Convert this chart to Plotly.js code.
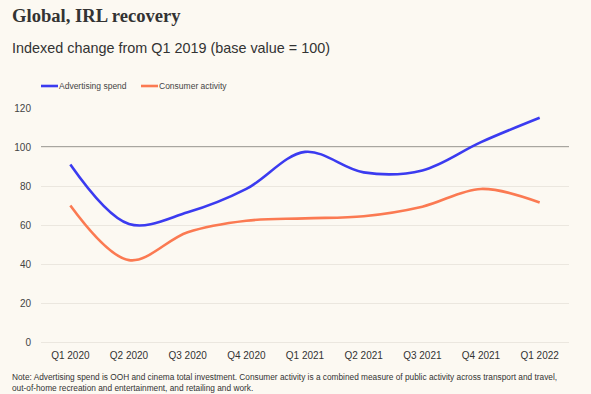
<!DOCTYPE html>
<html>
<head>
<meta charset="utf-8">
<script src="https://cdn.plot.ly/plotly-3.0.1.min.js"></script>
<style>
html,body{margin:0;padding:0;background:#fcf9f2;}
#chart{width:591px;height:394px;}
</style>
</head>
<body>
<div id="chart"></div>
<script>
const quarters = ["Q1 2020","Q2 2020","Q3 2020","Q4 2020","Q1 2021","Q2 2021","Q3 2021","Q4 2021","Q1 2022"];
const advertisingSpend = [91, 60.5, 66.5, 78.5, 97.5, 87, 88, 102.5, 115];
const consumerActivity = [70, 42, 56.3, 62.2, 63.4, 64.5, 69.4, 78.5, 71.5];
const yTicks = [0, 20, 40, 60, 80, 100, 120];
const baseValue = 100;
const seriesNames = ["Advertising spend", "Consumer activity"];
const seriesColors = ["#3b3bf0", "#fb7a52"];

// plot-area geometry in pixels (used to place paper-referenced text)
const W = 591, H = 394, ML = 41, MR = 22, MT = 108, MB = 52;
const PW = W - ML - MR, PH = H - MT - MB;
const px = v => (v - ML) / PW;          // pixel x -> paper x
const py = v => (H - MB - v) / PH;      // pixel y -> paper y

const traces = [
  {x: quarters, y: advertisingSpend, name: seriesNames[0], type: "scatter", mode: "lines",
   showlegend: false, line: {color: seriesColors[0], width: 2.6, shape: "spline", smoothing: 1}},
  {x: quarters, y: consumerActivity, name: seriesNames[1], type: "scatter", mode: "lines",
   showlegend: false, line: {color: seriesColors[1], width: 2.6, shape: "spline", smoothing: 1}}
];

const legendY = py(86);
const legendItems = [{x0: 41, x1: 58}, {x0: 141, x1: 158}];

const layout = {
  width: W, height: H,
  paper_bgcolor: "#fcf9f2", plot_bgcolor: "#fcf9f2",
  margin: {l: ML, r: MR, t: MT, b: MB},
  font: {family: "Liberation Sans, Arial, sans-serif", color: "#333"},
  showlegend: false,
  xaxis: {type: "category", range: [-0.5, 8.5], showgrid: false, zeroline: false, showline: false,
          automargin: false, ticks: "outside", ticklen: 4, tickcolor: "rgba(0,0,0,0)",
          tickfont: {size: 10, color: "#333"}, fixedrange: true},
  yaxis: {range: [0, 120], tickvals: yTicks, showgrid: true, gridcolor: "#ebe7df", gridwidth: 1,
          zeroline: true, zerolinecolor: "#ebe7df", zerolinewidth: 1, showline: false,
          automargin: false, ticks: "outside", ticklen: 7, tickcolor: "rgba(0,0,0,0)",
          tickfont: {size: 10, color: "#444"}, fixedrange: true},
  shapes: [
    {type: "line", xref: "paper", x0: 0, x1: 1, yref: "y", y0: baseValue, y1: baseValue,
     line: {color: "#8c8a85", width: 1.5}, layer: "below"},
    ...legendItems.map((it, i) => ({type: "line", xref: "paper", yref: "paper",
      x0: px(it.x0), x1: px(it.x1), y0: legendY, y1: legendY,
      line: {color: seriesColors[i], width: 2.6}}))
  ],
  annotations: [
    {text: "<b>Global, IRL recovery</b>", xref: "paper", yref: "paper", x: px(10), xanchor: "left",
     y: py(3), yanchor: "top", showarrow: false, align: "left",
     font: {family: "Liberation Serif, DejaVu Serif, serif", size: 18.6, color: "#333"}},
    {text: "Indexed change from Q1 2019 (base value = 100)", xref: "paper", yref: "paper", x: px(10), xanchor: "left",
     y: py(38), yanchor: "top", showarrow: false, align: "left",
     font: {size: 14.4, color: "#333"}},
    ...legendItems.map((it, i) => ({text: seriesNames[i], xref: "paper", yref: "paper",
      x: px(it.x1 - 1), xanchor: "left", y: legendY, yanchor: "middle", showarrow: false,
      font: {size: 8.5, color: "#444"}})),
    {text: "Note: Advertising spend is OOH and cinema total investment. Consumer activity is a combined measure of public activity across transport and travel,<br>out-of-home recreation and entertainment, and retailing and work.",
     xref: "paper", yref: "paper", x: px(10), xanchor: "left", y: py(370), yanchor: "top",
     showarrow: false, align: "left", font: {size: 8.3, color: "#333"}}
  ]
};

Plotly.newPlot("chart", traces, layout, {displayModeBar: false, staticPlot: true});
</script>
</body>
</html>
